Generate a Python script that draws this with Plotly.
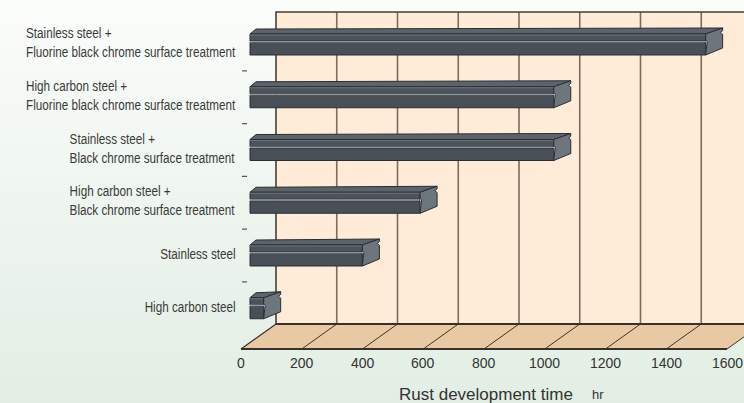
import plotly.graph_objects as go

# ---------------- data ----------------
categories = [
    "Stainless steel +<br>Fluorine black chrome surface treatment",
    "High carbon steel +<br>Fluorine black chrome surface treatment",
    "Stainless steel +<br>Black chrome surface treatment",
    "High carbon steel +<br>Black chrome surface treatment",
    "Stainless steel",
    "High carbon steel",
]
rust_hours = [1500, 1000, 1000, 560, 370, 45]
x_ticks = [0, 200, 400, 600, 800, 1000, 1200, 1400, 1600]
x_title = "Rust development time"
x_unit = "hr"

# ---------------- geometry (pixel scale -> data units) ----------------
W, H = 744, 403
SX = 0.30375          # px per hour
X0 = 241              # px of 0 hr on front edge
ROW = 52.75           # px per category row
Y0 = 44.5             # px of row 0 centre


def xd(px):
    return (px - X0) / SX


def yd(py):
    return (py - Y0) / ROW


def dx(px):
    return px / SX


def dy(px):
    return px / ROW


XMAX = x_ticks[-1]
DEPTH_X = dx(35)
FRONT = yd(349)
BACK = yd(324)
WALL_TOP = yd(12)

fig = go.Figure()


def poly(xs, ys, fill, line="#2a2e33", lw=1):
    fig.add_trace(go.Scatter(
        x=list(xs) + [xs[0]], y=list(ys) + [ys[0]], mode="lines", fill="toself",
        fillcolor=fill, line=dict(color=line, width=lw), hoverinfo="skip",
        showlegend=False))


def seg(xs, ys, color, lw):
    fig.add_trace(go.Scatter(x=xs, y=ys, mode="lines",
                             line=dict(color=color, width=lw),
                             hoverinfo="skip", showlegend=False))


# background gradient
fig.add_trace(go.Scatter(
    x=[xd(0), xd(W), xd(W), xd(0), xd(0)],
    y=[yd(0), yd(0), yd(H), yd(H), yd(0)],
    mode="lines", fill="toself", line=dict(width=0), hoverinfo="skip",
    showlegend=False,
    fillgradient=dict(type="vertical",
                      colorscale=[[0, "#fbfdfb"], [1, "#e2eee4"]],
                      start=yd(0), stop=yd(H))))

# back wall
poly([DEPTH_X, XMAX + DEPTH_X + 200, XMAX + DEPTH_X + 200, DEPTH_X],
     [WALL_TOP, WALL_TOP, BACK, BACK], "#feecd8", line="rgba(0,0,0,0)", lw=0)
for v in x_ticks[1:-1]:
    seg([v + DEPTH_X, v + DEPTH_X], [WALL_TOP, BACK], "#7c6c5e", 1.6)
seg([DEPTH_X, DEPTH_X, XMAX + DEPTH_X + 200], [BACK, WALL_TOP, WALL_TOP], "#4a3e35", 1.6)

# floor
poly([0, DEPTH_X, XMAX + DEPTH_X, XMAX], [FRONT, BACK, BACK, FRONT], "#e8c9a3",
     line="rgba(0,0,0,0)", lw=0)
for v in x_ticks[1:]:
    seg([v, v + DEPTH_X], [FRONT, BACK], "#3a332e", 1)
seg([0, DEPTH_X], [FRONT, BACK], "#3a332e", 1.2)
seg([DEPTH_X, XMAX + DEPTH_X + 200], [BACK, BACK], "#3a302a", 2)
seg([0, XMAX], [FRONT, FRONT], "#3a302a", 2)

# category separator dashes
for k in range(len(categories) - 1):
    seg([xd(242), xd(247)], [k + 0.5, k + 0.5], "#555555", 1.2)

# ---------------- bars ----------------
BASE = xd(250)
for k, v in enumerate(rust_hours):
    b = k + dy(10.5)          # bottom of front face
    t = k - dy(10.5)          # top of front face
    xl, xr = BASE, BASE + v
    g = b - dy(14)            # groove line
    # top face
    poly([xl, xl + dx(6), xr + dx(17), xr],
         [t, t - dy(5), t - dy(6), t], "#5c636a")
    # front face upper/lower
    poly([xl, xr, xr, xl], [t, t, g, g], "#4d535a")
    poly([xl, xr, xr, xl], [g + dy(1.5), g + dy(1.5), b, b], "#494f56")
    seg([xl, xr - dx(1)], [g + dy(0.7), g + dy(0.7)], "#8f979e", 1.6)
    seg([xl, xr], [t + dy(1), t + dy(1)], "#6c747b", 1)
    # end cap with notch
    poly([xr, xr + dx(17), xr + dx(17), xr + dx(15), xr + dx(17), xr + dx(17), xr,
          xr + dx(1.5), xr],
         [t, t - dy(6), t - dy(3.5), t - dy(1.5), t + dy(0.5), b - dy(7), b,
          g + dy(0.7), t + dy(6)],
         "#6d767d")

# ---------------- text ----------------
ann = []
for k, c in enumerate(categories):
    ann.append(dict(x=xd(238), y=k - dy(2), xref="x", yref="y", text=c,
                    showarrow=False, xanchor="right", yanchor="middle",
                    align="left",
                    font=dict(family="Liberation Sans, Arial", size=15,
                              color="#3a3a3a")))
for v in x_ticks:
    ann.append(dict(x=v, y=yd(363), xref="x", yref="y", text=str(v),
                    showarrow=False, xanchor="center", yanchor="middle",
                    font=dict(family="Liberation Sans, Arial", size=14,
                              color="#333333")))
ann.append(dict(x=xd(486), y=yd(394), xref="x", yref="y", text=x_title,
                showarrow=False, xanchor="center", yanchor="middle",
                font=dict(family="Liberation Sans, Arial", size=17, color="#333333")))
ann.append(dict(x=xd(590), y=yd(394), xref="x", yref="y", text=x_unit,
                showarrow=False, xanchor="left", yanchor="middle",
                font=dict(family="Liberation Sans, Arial", size=13, color="#333333")))

fig.update_layout(
    width=W, height=H,
    margin=dict(l=0, r=0, t=0, b=0),
    paper_bgcolor="#eef5ef", plot_bgcolor="rgba(0,0,0,0)",
    xaxis=dict(range=[xd(0), xd(W)], visible=False, fixedrange=True),
    yaxis=dict(range=[yd(H), yd(0)], visible=False, fixedrange=True),
    annotations=ann, showlegend=False,
)

# remove page margin and condense the category labels horizontally (narrow face look),
# keeping each label block's right edge fixed
post = """
document.body.style.margin = '0';
document.body.style.overflow = 'hidden';
var NARROW = 0.78;
function condense() {
  document.querySelectorAll('text.annotation-text').forEach(function (t) {
    if (!/steel|treatment/.test(t.textContent)) return;
    var bb = t.getBBox();
    var right = bb.x + bb.width;
    t.setAttribute('transform', 'translate(' + (right * (1 - NARROW)) + ',0) scale(' + NARROW + ',1)');
  });
}
condense();
setTimeout(condense, 50);
var gd = document.getElementById('{plot_id}');
if (gd && gd.on) { gd.on('plotly_afterplot', condense); }
"""

fig.write_html("out.html", post_script=post, config={"displayModeBar": False})
